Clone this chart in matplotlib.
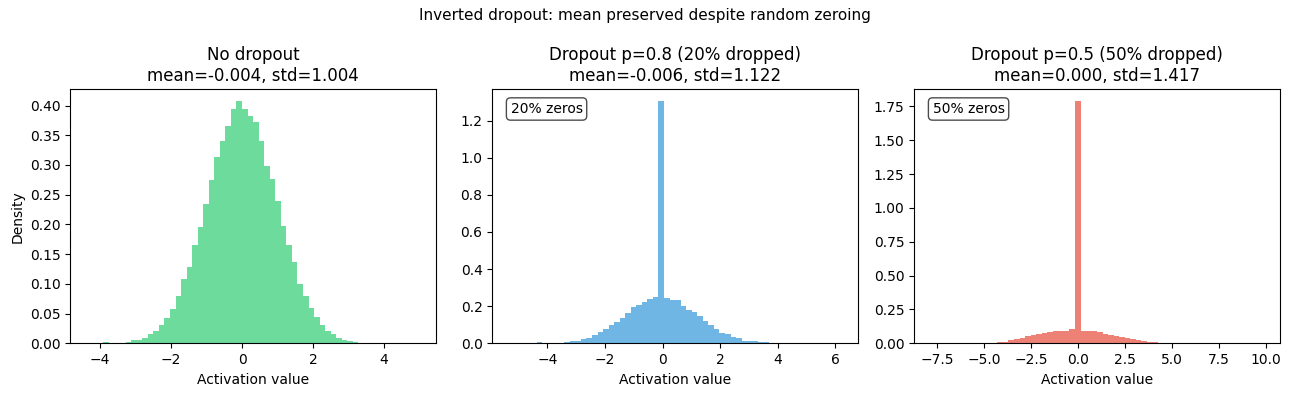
import numpy as np
import matplotlib
matplotlib.use("Agg")
import matplotlib.pyplot as plt
from matplotlib.ticker import MultipleLocator

# histogram ranges (min, max) of each panel, 60 bins each
range_nodrop = (-4.37, 4.99)
range_p08 = (-5.34, 6.21)
range_p05 = (-7.83, 9.88)
n_bins = 60

# density per bin
dens_nodrop = [
    0, 0, 0, 0.002, 0, 0.001, 0.001, 0.003, 0.005, 0.006,
    0.009, 0.015, 0.021, 0.030, 0.043, 0.057, 0.080, 0.109, 0.128, 0.166,
    0.196, 0.235, 0.274, 0.313, 0.341, 0.365, 0.395, 0.407, 0.395, 0.382,
    0.372, 0.340, 0.299, 0.276, 0.239, 0.197, 0.166, 0.136, 0.100, 0.079,
    0.060, 0.045, 0.030, 0.021, 0.015, 0.009, 0.006, 0.004, 0.003, 0.001,
    0.001, 0.001, 0, 0, 0, 0, 0, 0, 0, 0,
]
dens_p08 = [
    0, 0, 0, 0, 0, 0.005, 0, 0.004, 0.004, 0.004,
    0.009, 0.014, 0.014, 0.025, 0.031, 0.047, 0.063, 0.079, 0.097, 0.117,
    0.138, 0.165, 0.194, 0.208, 0.225, 0.241, 0.252, 1.303, 0.246, 0.235,
    0.235, 0.203, 0.181, 0.171, 0.146, 0.120, 0.097, 0.079, 0.058, 0.050,
    0.036, 0.027, 0.014, 0.014, 0.011, 0.005, 0.005, 0.004, 0.004, 0,
    0, 0, 0, 0, 0, 0, 0, 0, 0, 0,
]
dens_p05 = [
    0, 0, 0, 0, 0, 0, 0, 0.003, 0.003, 0.003,
    0.003, 0.003, 0.012, 0.012, 0.022, 0.032, 0.042, 0.052, 0.062, 0.069,
    0.079, 0.086, 0.089, 0.089, 0.094, 0.104, 1.787, 0.094, 0.094, 0.094,
    0.081, 0.071, 0.062, 0.054, 0.047, 0.037, 0.030, 0.022, 0.017, 0.012,
    0.012, 0.004, 0.004, 0.004, 0.004, 0.004, 0, 0, 0, 0,
    0, 0, 0, 0, 0, 0, 0, 0, 0, 0,
]

titles = [
    "No dropout\nmean=-0.004, std=1.004",
    "Dropout p=0.8 (20% dropped)\nmean=-0.006, std=1.122",
    "Dropout p=0.5 (50% dropped)\nmean=0.000, std=1.417",
]
colors = ["#2ecc71", "#3498db", "#e74c3c"]
notes = [None, "20% zeros", "50% zeros"]

fig, axes = plt.subplots(1, 3, figsize=(12.89, 3.96))

panels = zip(axes, [range_nodrop, range_p08, range_p05],
             [dens_nodrop, dens_p08, dens_p05], titles, colors, notes)
for ax, rng, dens, title, color, note in panels:
    edges = np.linspace(rng[0], rng[1], n_bins + 1)
    ax.hist(edges[:-1], bins=edges, weights=dens, color=color, alpha=0.7)
    ax.set_title(title)
    ax.set_xlabel("Activation value")
    if note:
        ax.text(0.05, 0.95, note, transform=ax.transAxes, fontsize=10,
                va="top", bbox=dict(boxstyle="round", facecolor="white",
                                    alpha=0.7))

axes[0].set_ylabel("Density")
axes[0].yaxis.set_major_locator(MultipleLocator(0.05))
axes[0].yaxis.set_major_formatter("{x:.2f}")
fig.suptitle("Inverted dropout: mean preserved despite random zeroing",
             fontsize=11)
fig.subplots_adjust(left=0.0545, right=0.993, top=0.7745, bottom=0.1331,
                    wspace=0.154)
plt.savefig("out.png", dpi=100)
